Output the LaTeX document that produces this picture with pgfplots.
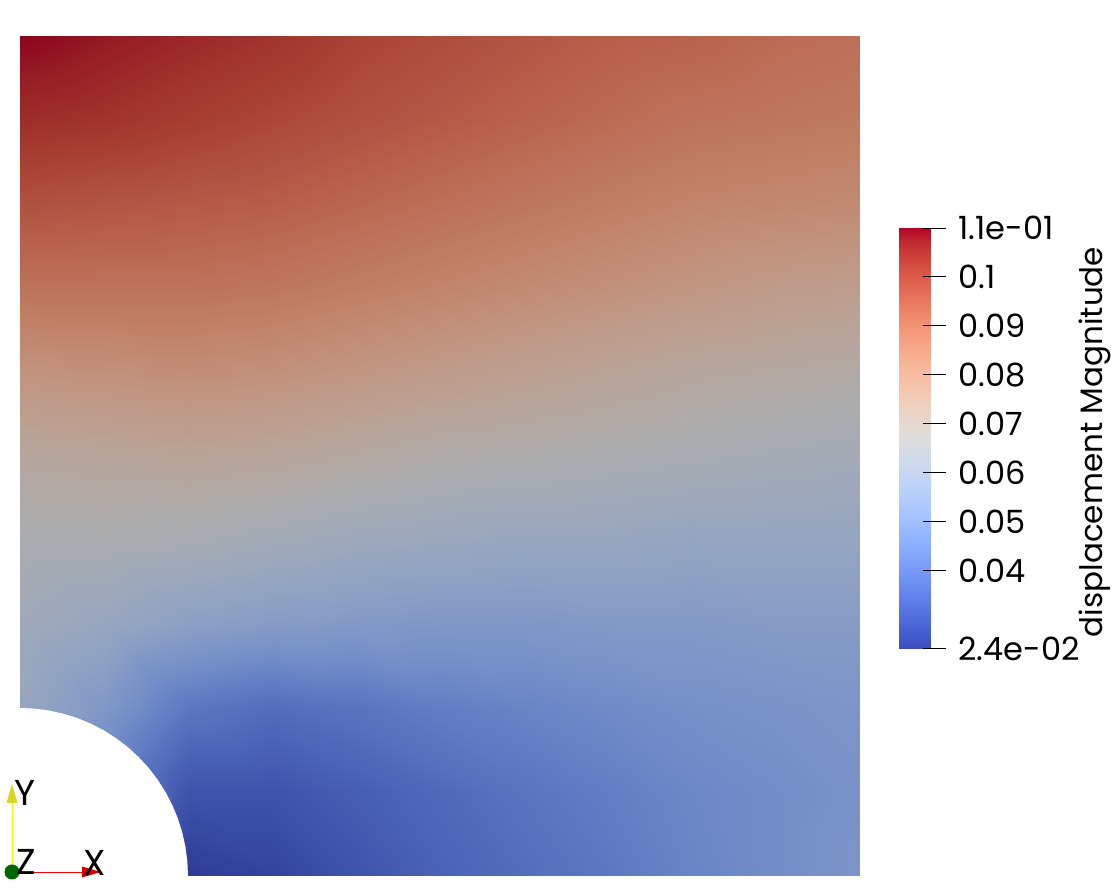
\documentclass[border=0pt]{standalone}
\usepackage{pgfplots}
\pgfplotsset{compat=1.18}
\usepackage{fontspec}
\setmainfont{Poppins}
\pgfplotsset{
 colormap={cw}{rgb255=(59,76,192) rgb255=(68,90,204) rgb255=(77,104,215) rgb255=(87,117,225)
  rgb255=(98,130,234) rgb255=(108,142,241) rgb255=(119,154,247) rgb255=(130,165,251)
  rgb255=(141,176,254) rgb255=(152,185,255) rgb255=(163,194,255) rgb255=(174,201,253)
  rgb255=(184,208,249) rgb255=(194,213,244) rgb255=(204,217,238) rgb255=(213,219,230)
  rgb255=(221,221,221) rgb255=(229,216,209) rgb255=(236,211,197) rgb255=(241,204,185)
  rgb255=(245,196,173) rgb255=(247,187,160) rgb255=(247,177,148) rgb255=(247,166,135)
  rgb255=(244,154,123) rgb255=(241,141,111) rgb255=(236,127,99) rgb255=(229,112,88)
  rgb255=(222,96,77) rgb255=(213,80,66) rgb255=(203,62,56) rgb255=(192,40,47) rgb255=(180,4,38)},
 colormap={plate}{rgb255=(46,59,150) rgb255=(53,70,159) rgb255=(60,81,168) rgb255=(68,91,176)
  rgb255=(76,101,183) rgb255=(84,111,188) rgb255=(93,120,193) rgb255=(101,129,196)
  rgb255=(110,137,198) rgb255=(119,144,199) rgb255=(127,151,199) rgb255=(136,157,197)
  rgb255=(144,162,194) rgb255=(151,166,190) rgb255=(159,169,186) rgb255=(166,171,179)
  rgb255=(172,172,172) rgb255=(179,168,163) rgb255=(184,165,154) rgb255=(188,159,144)
  rgb255=(191,153,135) rgb255=(193,146,125) rgb255=(193,138,115) rgb255=(193,129,105)
  rgb255=(190,120,96) rgb255=(188,110,87) rgb255=(184,99,77) rgb255=(179,87,69)
  rgb255=(173,75,60) rgb255=(166,62,51) rgb255=(158,48,44) rgb255=(150,31,37) rgb255=(140,3,30)},
}
\pgfplotstableread{
x y v
0.0 0.0 0.050
0.1 0.0 0.030
0.2 0.0 0.024
0.3 0.0 0.026
0.4 0.0 0.030
0.5 0.0 0.034
0.6 0.0 0.037
0.7 0.0 0.040
0.8 0.0 0.044
0.9 0.0 0.047
1.0 0.0 0.050
0.0 0.1 0.062
0.1 0.1 0.045
0.2 0.1 0.030
0.3 0.1 0.030
0.4 0.1 0.033
0.5 0.1 0.036
0.6 0.1 0.039
0.7 0.1 0.042
0.8 0.1 0.045
0.9 0.1 0.047
1.0 0.1 0.049
0.0 0.2 0.059
0.1 0.2 0.051
0.2 0.2 0.040
0.3 0.2 0.037
0.4 0.2 0.039
0.5 0.2 0.042
0.6 0.2 0.044
0.7 0.2 0.046
0.8 0.2 0.048
0.9 0.2 0.049
1.0 0.2 0.050
0.0 0.3 0.062
0.1 0.3 0.059
0.2 0.3 0.055
0.3 0.3 0.053
0.4 0.3 0.052
0.5 0.3 0.051
0.6 0.3 0.051
0.7 0.3 0.052
0.8 0.3 0.052
0.9 0.3 0.053
1.0 0.3 0.053
0.0 0.4 0.066
0.1 0.4 0.066
0.2 0.4 0.065
0.3 0.4 0.063
0.4 0.4 0.061
0.5 0.4 0.060
0.6 0.4 0.059
0.7 0.4 0.059
0.8 0.4 0.058
0.9 0.4 0.058
1.0 0.4 0.058
0.0 0.5 0.071
0.1 0.5 0.072
0.2 0.5 0.073
0.3 0.5 0.072
0.4 0.5 0.070
0.5 0.5 0.068
0.6 0.5 0.067
0.7 0.5 0.066
0.8 0.5 0.065
0.9 0.5 0.064
1.0 0.5 0.063
0.0 0.6 0.080
0.1 0.6 0.081
0.2 0.6 0.082
0.3 0.6 0.081
0.4 0.6 0.079
0.5 0.6 0.077
0.6 0.6 0.075
0.7 0.6 0.073
0.8 0.6 0.071
0.9 0.6 0.070
1.0 0.6 0.069
0.0 0.7 0.090
0.1 0.7 0.090
0.2 0.7 0.090
0.3 0.7 0.089
0.4 0.7 0.087
0.5 0.7 0.085
0.6 0.7 0.083
0.7 0.7 0.081
0.8 0.7 0.079
0.9 0.7 0.077
1.0 0.7 0.076
0.0 0.8 0.098
0.1 0.8 0.097
0.2 0.8 0.096
0.3 0.8 0.095
0.4 0.8 0.093
0.5 0.8 0.091
0.6 0.8 0.089
0.7 0.8 0.087
0.8 0.8 0.085
0.9 0.8 0.084
1.0 0.8 0.083
0.0 0.9 0.105
0.1 0.9 0.104
0.2 0.9 0.102
0.3 0.9 0.100
0.4 0.9 0.098
0.5 0.9 0.096
0.6 0.9 0.094
0.7 0.9 0.092
0.8 0.9 0.090
0.9 0.9 0.089
1.0 0.9 0.088
0.0 1.0 0.110
0.1 1.0 0.108
0.2 1.0 0.106
0.3 1.0 0.104
0.4 1.0 0.101
0.5 1.0 0.099
0.6 1.0 0.097
0.7 1.0 0.095
0.8 1.0 0.094
0.9 1.0 0.092
1.0 1.0 0.091
}\fielddata
\pgfplotstableread{
x y v
0 0.024 0.024
31 0.024 0.024
0 0.11 0.11
31 0.11 0.11
}\bardata
\begin{document}
\begin{tikzpicture}[x=1pt,y=1pt]
\useasboundingbox (0,0) rectangle (1112,889);
\begin{axis}[at={(20pt,13pt)}, anchor=south west, width=840pt, height=840pt,
  scale only axis, hide axis, view={0}{90},
  xmin=0, xmax=1, ymin=0, ymax=1,
  colormap name=plate, point meta min=0.024, point meta max=0.11]
\addplot3[surf, shader=interp, mesh/cols=11, point meta=\thisrow{v}]
  table[x=x, y=y, z=v] {\fielddata};
\addplot3[fill=white, draw=none] coordinates {
 (0.2,-0.01,0.2) (0.2,0,0.2) (0.19924,0.01743,0.2) (0.19696,0.03473,0.2) (0.19319,0.05176,0.2)
 (0.18794,0.06840,0.2) (0.18126,0.08452,0.2) (0.17321,0.1,0.2) (0.16383,0.11472,0.2)
 (0.15321,0.12856,0.2) (0.14142,0.14142,0.2) (0.12856,0.15321,0.2) (0.11472,0.16383,0.2)
 (0.1,0.17321,0.2) (0.08452,0.18126,0.2) (0.06840,0.18794,0.2) (0.05176,0.19319,0.2)
 (0.03473,0.19696,0.2) (0.01743,0.19924,0.2) (0,0.2,0.2) (-0.01,0.2,0.2) (-0.01,-0.01,0.2)} --cycle;
\end{axis}
\begin{axis}[at={(899pt,240pt)}, anchor=south west, width=47pt, height=421pt,
  scale only axis, view={0}{90},
  xmin=0, xmax=47, ymin=0.024, ymax=0.11,
  colormap name=cw, point meta min=0.024, point meta max=0.11,
  axis x line=none, axis y line*=right, y axis line style={draw=none},
  ytick={0.024,0.04,0.05,0.06,0.07,0.08,0.09,0.1,0.11},
  yticklabels={2.4e-02,0.04,0.05,0.06,0.07,0.08,0.09,0.1,1.1e-01},
  tick align=inside, major tick length=23pt,
  ytick style={black, line width=1pt},
  yticklabel style={anchor=west, xshift=9pt},
  tick label style={font=\fontsize{32}{36}\selectfont}]
\addplot3[surf, shader=interp, mesh/cols=2, point meta=\thisrow{v}]
  table[x=x, y=y, z=v] {\bardata};
\end{axis}
\node[rotate=90, anchor=base, font=\fontsize{31}{36}\selectfont] at (1102,447) {displacement Magnitude};
% orientation triad
\draw[yellow, line width=0.8pt] (12,17) -- (12,90);
\fill[yellow!85!black] (6.5,86) -- (12,105) -- (17.5,86) -- cycle;
\draw[red, line width=0.8pt] (12,17) -- (86,17);
\fill[red!85!black] (82,11.5) -- (101,17) -- (82,22.5) -- cycle;
\fill[green!40!black] (12,17) circle (7.5);
\node[font=\fontsize{36}{38}\selectfont, inner sep=0pt] at (25,96) {Y};
\node[font=\fontsize{36}{38}\selectfont, inner sep=0pt] at (26,27) {Z};
\node[font=\fontsize{36}{38}\selectfont, inner sep=0pt] at (95,26) {X};
\end{tikzpicture}
\end{document}
